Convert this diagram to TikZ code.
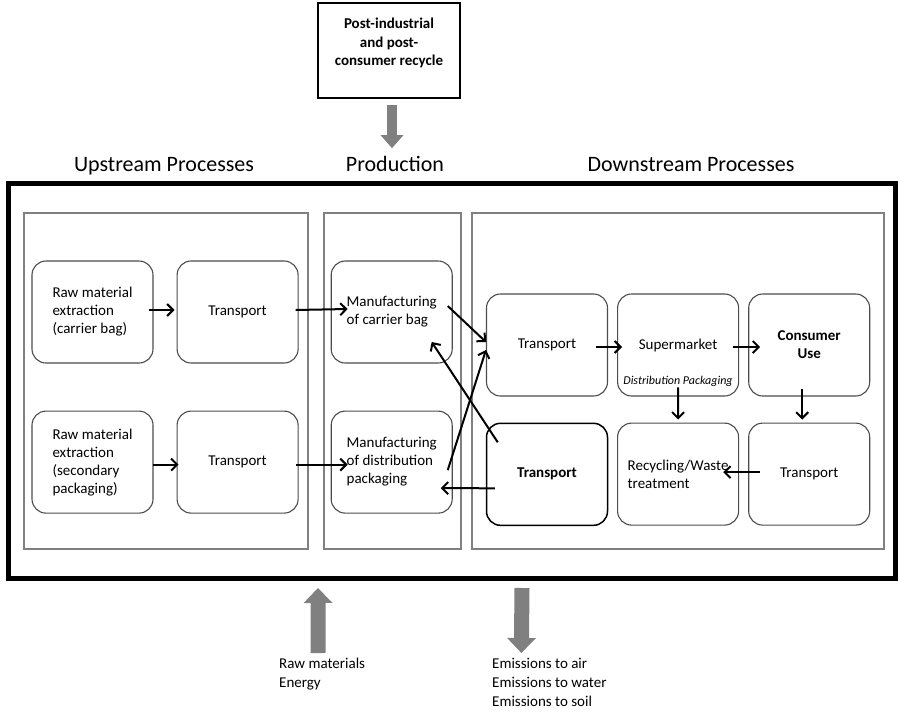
\documentclass[tikz,border=0pt]{standalone}
\usepackage{fontspec}
\setmainfont{Carlito}
\usetikzlibrary{arrows.meta,positioning}

\begin{document}
\begin{tikzpicture}[x=1pt,y=-1pt,
  node distance=25pt and 25pt,
  box/.style={draw=black!70,line width=1.1pt,rounded corners=14pt,minimum width=121pt,
              minimum height=102pt,font=\fontsize{15}{18}\selectfont,align=left,inner sep=2pt},
  boldbox/.style={box,font=\fontsize{15}{18}\selectfont\bfseries},
  panel/.style={draw=black!50,line width=1.2pt},
  title/.style={font=\fontsize{22}{26}\selectfont,anchor=base},
  txt/.style={font=\fontsize{15}{19}\selectfont,align=left,inner sep=0pt},
  arr/.style={-{Straight Barb[length=6pt,width=12pt]},line width=2pt},
  bigarr/.style={-{Triangle[length=15pt,width=28pt]},line width=15pt,draw=black!50}
]
\useasboundingbox (0,0) rectangle (900,713);

\node[draw,line width=5pt,minimum width=887pt,minimum height=395pt,inner sep=0pt] (frame) at (451.5,380.5) {};
\draw[panel] (24,213) rectangle (308,549);
\draw[panel] (324,213) rectangle (461,549);
\draw[panel] (472,213) rectangle (884,549);

\node[title] (uptitle)   at (164,171) {Upstream Processes};
\node[title] (prodtitle) at (395,171) {Production};
\node[title] (downtitle) at (691,171) {Downstream Processes};

\node[draw,line width=1.2pt,minimum width=142pt,minimum height=95pt,text depth=17pt,
      font=\fontsize{15}{18.5}\selectfont\bfseries,align=center] (post) at (389,50.5)
      {Post-industrial\\and post-\\consumer recycle};

% upstream
\node[box] (raw1) at (92.5,312) {Raw material\\extraction\\(carrier bag)};
\node[box,right=23pt of raw1] (tr1) {Transport};
\node[box,below=47pt of raw1] (raw2) {Raw material\\extraction\\(secondary\\packaging)};
\node[box,right=23pt of raw2] (tr2) {Transport};

% production
\node[box,right=32pt of tr1] (mfbag) {Manufacturing\\of carrier bag};
\node[box,right=32pt of tr2] (mfpkg) {Manufacturing\\of distribution\\packaging};

% downstream
\node[box] (tr3) at (547,345) {Transport};
\node[box,right=9pt of tr3] (sup) {Supermarket};
\node[boldbox,right=9pt of sup,align=center] (use) {Consumer\\Use};
\node[boldbox,draw=black,line width=1.5pt,below=26pt of tr3] (tr4) {Transport};
\node[box,below=26pt of sup] (rec) {Recycling/Waste\\treatment};
\node[box,below=26pt of use] (tr5) {Transport};
\node[font=\fontsize{12}{14}\selectfont\itshape,inner sep=1pt] (dpkg) at (678,381) {Distribution Packaging};

\draw[arr] ([xshift=-5pt,yshift=2pt]raw1.east) -- ([xshift=-2pt,yshift=2pt]tr1.west);
\draw[arr] ([xshift=-1pt,yshift=-2.5pt]raw2.east) -- ([xshift=2pt,yshift=-2.5pt]tr2.west);
\draw[arr] ([xshift=-3pt,yshift=2pt]tr1.east) -- ([xshift=17pt,yshift=3pt]mfbag.west);
\draw[arr] ([xshift=-3pt,yshift=-2.5pt]tr2.east) -- ([xshift=17pt,yshift=-2.5pt]mfpkg.west);
\draw[arr] ([xshift=-5pt,yshift=6pt]mfbag.east) -- ([yshift=3pt]tr3.west);
\draw[arr] ([xshift=-5pt,yshift=-8pt]mfpkg.east) -- ([yshift=-5pt]tr3.west);
\draw[arr] ([xshift=12pt,yshift=32pt]tr4.west) -- ([xshift=40pt,yshift=-30pt]mfbag.center);
\draw[arr] ([xshift=9pt,yshift=-14pt]tr4.west) -- ([xshift=-12pt,yshift=-26pt]mfpkg.east);
\draw[arr] ([xshift=-12pt,yshift=-2pt]tr3.east) -- ([xshift=5pt,yshift=-2pt]sup.west);
\draw[arr] ([xshift=-6pt,yshift=-2pt]sup.east) -- ([xshift=12pt,yshift=-2pt]use.west);
\draw[arr] (dpkg.south) -- ([yshift=3pt]rec.north);
\draw[arr] ([xshift=-7pt,yshift=8pt]use.south) -- ([xshift=-7pt,yshift=3pt]tr5.north);
\draw[arr] ([xshift=12pt,yshift=2pt]tr5.west) -- ([xshift=-16pt,yshift=2pt]rec.east);

% inputs and outputs
\draw[bigarr,line width=10pt,-{Triangle[length=13pt,width=22pt]}]
  ([xshift=3pt,yshift=-6pt]post.south) -- ([xshift=-3pt,yshift=4pt]prodtitle.north);

\node[txt,anchor=north west] (rawin) at (279,658) {Raw materials\\Energy};
\coordinate (rawtip) at (318,588);
\draw[bigarr] ([xshift=-4pt,yshift=5pt]rawin.north) -- (rawtip);

\node[txt,anchor=north west] (emis) at (492,658) {Emissions to air\\Emissions to water\\Emissions to soil};
\coordinate (emisout) at (522,588);
\draw[bigarr] (emisout) -- ([xshift=-28pt,yshift=5pt]emis.north);
\end{tikzpicture}
\end{document}
